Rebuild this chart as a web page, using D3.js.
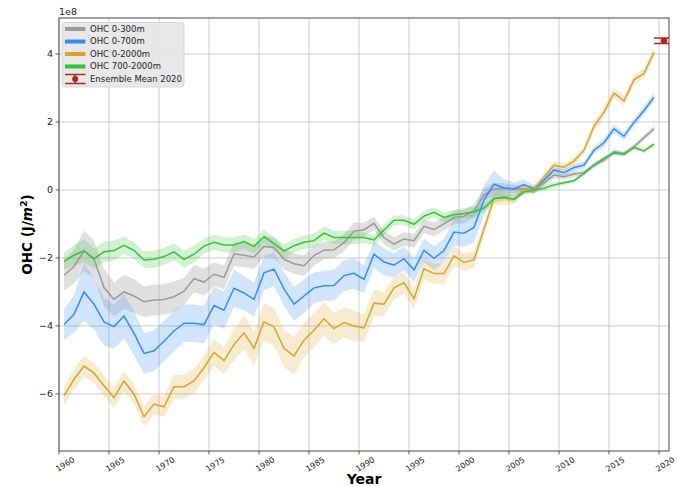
<!DOCTYPE html>
<html><head><meta charset="utf-8">
<script src="https://cdn.jsdelivr.net/npm/d3@7"></script>
<style>
html,body{margin:0;padding:0;background:#fff;}
svg{display:block;font-family:"DejaVu Sans",sans-serif;}
</style></head>
<body>
<svg id="chart" width="677" height="486"></svg>
<script>
const years = [1960,1961,1962,1963,1964,1965,1966,1967,1968,1969,
1970,1971,1972,1973,1974,1975,1976,1977,1978,1979,
1980,1981,1982,1983,1984,1985,1986,1987,1988,1989,
1990,1991,1992,1993,1994,1995,1996,1997,1998,1999,
2000,2001,2002,2003,2004,2005,2006,2007,2008,2009,
2010,2011,2012,2013,2014,2015,2016,2017,2018,2019];

const ohc0300 = [-2.51,-2.25,-1.79,-2.04,-2.87,-3.22,-3.00,-3.12,-3.29,-3.24,
-3.22,-3.14,-2.98,-2.61,-2.71,-2.48,-2.57,-1.88,-1.92,-1.97,
-1.66,-1.69,-2.04,-2.17,-2.23,-1.93,-1.77,-1.76,-1.55,-1.21,
-1.17,-0.98,-1.40,-1.59,-1.44,-1.49,-1.07,-1.16,-1.00,-0.81,
-0.78,-0.61,-0.15,0.03,0.05,0.03,0.03,0.00,0.20,0.44,
0.39,0.47,0.51,0.73,0.88,1.12,1.07,1.27,1.54,1.80];

const ohc0700 = [-3.96,-3.66,-3.00,-3.36,-3.88,-4.02,-3.71,-4.22,-4.81,-4.73,
-4.45,-4.15,-3.92,-3.92,-3.96,-3.40,-3.54,-2.89,-3.03,-3.22,
-2.44,-2.33,-2.91,-3.36,-3.12,-2.88,-2.82,-2.81,-2.52,-2.45,
-2.63,-1.89,-2.12,-2.21,-2.02,-2.35,-1.78,-2.01,-1.78,-1.24,
-1.27,-1.10,-0.30,0.17,0.06,0.03,0.16,0.03,0.29,0.59,
0.51,0.66,0.73,1.17,1.39,1.80,1.58,1.99,2.34,2.73];

const ohc02000 = [-6.06,-5.57,-5.18,-5.39,-5.76,-6.11,-5.62,-6.01,-6.67,-6.30,
-6.38,-5.79,-5.79,-5.62,-5.23,-4.78,-5.02,-4.55,-4.20,-4.66,
-3.88,-4.03,-4.66,-4.88,-4.42,-4.13,-3.79,-4.08,-3.90,-4.00,
-4.06,-3.33,-3.36,-2.88,-2.73,-3.20,-2.32,-2.46,-2.46,-1.94,
-2.13,-2.05,-1.15,-0.24,-0.24,-0.27,0.03,0.01,0.38,0.73,
0.67,0.85,1.17,1.87,2.29,2.85,2.62,3.24,3.43,4.05];

const ohc7002000 = [-2.10,-1.92,-1.79,-2.02,-1.82,-1.78,-1.63,-1.78,-2.06,-2.04,
-1.96,-1.82,-2.04,-1.89,-1.65,-1.54,-1.62,-1.62,-1.52,-1.66,
-1.37,-1.58,-1.80,-1.64,-1.54,-1.49,-1.27,-1.40,-1.40,-1.40,
-1.40,-1.47,-1.18,-0.89,-0.89,-1.01,-0.77,-0.66,-0.81,-0.73,
-0.69,-0.64,-0.53,-0.26,-0.21,-0.27,-0.06,-0.01,0.05,0.15,
0.21,0.27,0.49,0.73,0.93,1.09,1.05,1.25,1.15,1.35];

const err0300 = [0.45,0.5,0.6,0.55,0.55,0.5,0.5,0.5,0.45,0.45,
0.45,0.45,0.4,0.4,0.4,0.35,0.35,0.35,0.35,0.35,
0.3,0.3,0.3,0.3,0.3,0.3,0.25,0.25,0.25,0.25,
0.2,0.2,0.2,0.2,0.2,0.2,0.2,0.2,0.2,0.2,
0.2,0.2,0.2,0.18,0.15,0.12,0.1,0.1,0.1,0.1,
0.08,0.08,0.08,0.08,0.08,0.08,0.08,0.08,0.08,0.08];

const err0700 = [0.45,0.55,0.85,0.75,0.7,0.65,0.65,0.65,0.6,0.6,
0.6,0.6,0.55,0.55,0.55,0.55,0.55,0.55,0.5,0.5,
0.5,0.5,0.5,0.5,0.5,0.45,0.45,0.45,0.45,0.45,
0.4,0.4,0.4,0.35,0.35,0.35,0.35,0.35,0.35,0.4,
0.4,0.45,0.45,0.4,0.25,0.2,0.15,0.12,0.1,0.1,
0.1,0.1,0.1,0.1,0.12,0.12,0.12,0.12,0.12,0.12];

const err02000 = [0.3,0.3,0.3,0.3,0.3,0.3,0.3,0.3,0.3,0.3,
0.3,0.35,0.35,0.35,0.35,0.4,0.4,0.45,0.5,0.5,
0.55,0.55,0.55,0.55,0.5,0.5,0.5,0.45,0.45,0.45,
0.4,0.4,0.35,0.35,0.3,0.3,0.3,0.3,0.3,0.3,
0.25,0.25,0.2,0.2,0.2,0.15,0.12,0.12,0.12,0.12,
0.12,0.12,0.12,0.15,0.15,0.15,0.15,0.15,0.15,0.15];

const err7002000 = [0.25,0.3,0.35,0.3,0.3,0.3,0.25,0.25,0.25,0.25,
0.25,0.25,0.25,0.25,0.22,0.22,0.22,0.22,0.22,0.22,
0.2,0.2,0.2,0.2,0.2,0.2,0.2,0.2,0.2,0.2,
0.15,0.15,0.15,0.15,0.15,0.15,0.15,0.15,0.15,0.15,
0.15,0.15,0.12,0.12,0.1,0.1,0.08,0.08,0.08,0.08,
0.06,0.06,0.06,0.06,0.06,0.06,0.06,0.06,0.06,0.06];

const seriesNames = ["OHC 0-300m","OHC 0-700m","OHC 0-2000m","OHC 700-2000m"];
const seriesColors = ["#999999","#2f8ff5","#daa22a","#36c336"];
const ensembleLabel = "Ensemble Mean 2020";
const ensembleYear = [2020];
const ensembleValue = [4.39];
const ensembleErr = [0.08];
const xTicks = [1960,1965,1970,1975,1980,1985,1990,1995,2000,2005,2010,2015,2020];
const yTicks = [-6,-4,-2,0,2,4];

const values = [ohc0300, ohc0700, ohc02000, ohc7002000];
const errs = [err0300, err0700, err02000, err7002000];

const svg = d3.select("#chart");
const L = 59, R = 669, T = 18, B = 451;
const x = d3.scaleLinear().domain([1960, 2021]).range([L, R]);
const y = d3.scaleLinear().domain([-7.68, 5.06]).range([B, T]);

svg.append("defs").append("clipPath").attr("id","clip")
  .append("rect").attr("x",L).attr("y",T).attr("width",R-L).attr("height",B-T);

// grid
const grid = svg.append("g");
grid.selectAll(".gx").data(xTicks).join("line")
  .attr("x1",d=>x(d)).attr("x2",d=>x(d)).attr("y1",T).attr("y2",B)
  .attr("stroke","#b0b0b0").attr("stroke-width",0.8).attr("stroke-opacity",0.8);
grid.selectAll(".gy").data(yTicks).join("line")
  .attr("x1",L).attr("x2",R).attr("y1",d=>y(d)).attr("y2",d=>y(d))
  .attr("stroke","#b0b0b0").attr("stroke-width",0.8).attr("stroke-opacity",0.8);

const plot = svg.append("g").attr("clip-path","url(#clip)");
const area = d3.area().x((d,i)=>x(years[i]+0.5)).y0((d,i)=>y(d.v-d.e)).y1((d,i)=>y(d.v+d.e));
const line = d3.line().x((d,i)=>x(years[i]+0.5)).y(d=>y(d));
const bandAlpha = [0.3,0.22,0.22,0.22];

values.forEach((vals,k)=>{
  plot.append("path").datum(vals.map((v,i)=>({v:v,e:errs[k][i]})))
    .attr("d",area).attr("fill",seriesColors[k]).attr("fill-opacity",bandAlpha[k]).attr("stroke","none");
});
values.forEach((vals,k)=>{
  plot.append("path").datum(vals).attr("d",line)
    .attr("fill","none").attr("stroke",seriesColors[k]).attr("stroke-width",1.5);
});

// ensemble mean error bar
const ensColor = "#b22222";
ensembleYear.forEach((yr,i)=>{
  const cx = x(yr+0.5), v = ensembleValue[i], e = ensembleErr[i];
  const g = plot.append("g");
  g.append("line").attr("x1",cx).attr("x2",cx).attr("y1",y(v-e)).attr("y2",y(v+e)).attr("stroke",ensColor).attr("stroke-width",1.5);
  [v-e, v+e].forEach(vv=>{
    g.append("line").attr("x1",cx-10).attr("x2",cx+10).attr("y1",y(vv)).attr("y2",y(vv)).attr("stroke",ensColor).attr("stroke-width",1.5);
  });
  g.append("circle").attr("cx",cx).attr("cy",y(v)).attr("r",3.2).attr("fill",ensColor);
});

// spines
svg.append("rect").attr("x",L).attr("y",T).attr("width",R-L).attr("height",B-T)
  .attr("fill","none").attr("stroke","#333").attr("stroke-width",0.9);

// axes ticks
const axG = svg.append("g");
axG.selectAll(".tx").data(xTicks).join("line")
  .attr("x1",d=>x(d)).attr("x2",d=>x(d)).attr("y1",B).attr("y2",B+3.5).attr("stroke","#333").attr("stroke-width",0.8);
axG.selectAll(".ty").data(yTicks).join("line")
  .attr("x1",L-3.5).attr("x2",L).attr("y1",d=>y(d)).attr("y2",d=>y(d)).attr("stroke","#333").attr("stroke-width",0.8);
axG.selectAll(".lx").data(xTicks).join("text")
  .attr("transform",d=>`translate(${x(d)-1},${B+21}) rotate(-32)`)
  .attr("text-anchor","start").attr("font-size",8).attr("fill","#222")
  .text(d=>d);
axG.selectAll(".ly").data(yTicks).join("text")
  .attr("x",L-6).attr("y",d=>y(d)).attr("dy","0.35em")
  .attr("text-anchor","end").attr("font-size",9.5).attr("fill","#222")
  .text(d=>d3.format("d")(d).replace("-","\u2212"));

svg.append("text").attr("x",L).attr("y",15).attr("font-size",9.5).attr("fill","#222").text("1e8");

svg.append("text").attr("x",(L+R)/2).attr("y",484).attr("text-anchor","middle")
  .attr("font-size",14).attr("font-weight","bold").text("Year");

const yl = svg.append("text").attr("transform",`translate(32,${(T+B)/2}) rotate(-90)`)
  .attr("text-anchor","middle").attr("font-size",13.5).attr("font-weight","bold");
yl.append("tspan").text("OHC (J/");
yl.append("tspan").attr("font-style","italic").text("m");
yl.append("tspan").attr("font-size",9.5).attr("dy",-5).text("2");
yl.append("tspan").attr("dy",5).text(")");

// legend
const lg = svg.append("g");
lg.append("rect").attr("x",62).attr("y",22.5).attr("width",122).attr("height",64.5).attr("rx",2.5)
  .attr("fill","#e6e6e6").attr("fill-opacity",0.9).attr("stroke","#d0d0d0").attr("stroke-width",0.8);
const rowY = [29,41.5,54,66.5,79];
seriesNames.forEach((n,k)=>{
  lg.append("line").attr("x1",65).attr("x2",85.5).attr("y1",rowY[k]).attr("y2",rowY[k])
    .attr("stroke",seriesColors[k]).attr("stroke-width",4);
  lg.append("text").attr("x",90).attr("y",rowY[k]).attr("dy","0.35em").attr("font-size",8.5).attr("fill","#222").text(n);
});
{
  const cy = rowY[4], cx = 75.2;
  lg.append("line").attr("x1",cx).attr("x2",cx).attr("y1",cy-4.5).attr("y2",cy+4.5).attr("stroke",ensColor).attr("stroke-width",1.5);
  [cy-4.5, cy+4.5].forEach(yy=>lg.append("line").attr("x1",65).attr("x2",85.5).attr("y1",yy).attr("y2",yy).attr("stroke",ensColor).attr("stroke-width",1.5));
  lg.append("circle").attr("cx",cx).attr("cy",cy).attr("r",3).attr("fill",ensColor);
  lg.append("text").attr("x",90).attr("y",cy).attr("dy","0.35em").attr("font-size",8.5).attr("fill","#222").text(ensembleLabel);
}
</script>
</body></html>
